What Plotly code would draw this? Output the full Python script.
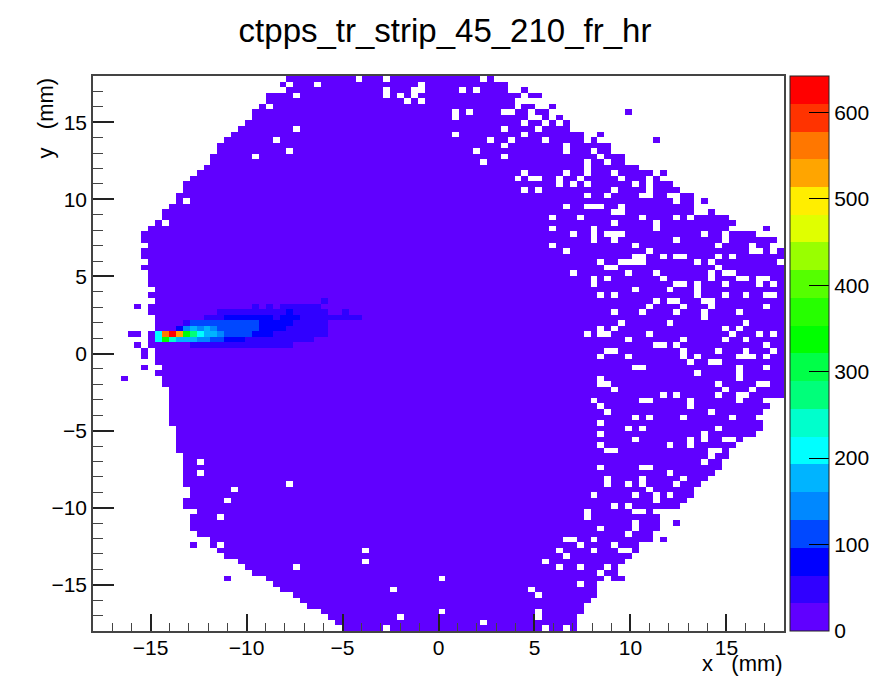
import plotly.graph_objects as go

TITLE = "ctpps_tr_strip_45_210_fr_hr"
X_LABEL = "x\u00a0\u00a0\u00a0(mm)"
Y_LABEL = "y\u00a0\u00a0\u00a0(mm)"
N_BINS = 100
X_START, BIN_W = -18.0, 0.36
Z_MAX = 642
BASE_COUNT = 10

# Rows are listed from the top of the plot (y = +18) downward; columns from x = -18.
ROW_FIRST = [28,27,28,25,25,24,23,23,22,21,20,19,18,18,17,17,16,15,14,13,13,12,12,11,10,10,9,8,7,7,
             8,7,7,8,7,8,8,8,9,8,9,8,8,9,9,9,8,8,8,9,9,9,10,9,10,10,11,11,11,11,
             11,11,11,12,12,12,12,12,13,13,13,13,13,13,14,14,13,13,15,14,14,14,15,17,17,18,19,21,22,23,
             25,26,27,29,30,31,33,34,35,36]
ROW_LAST = [57,59,59,61,60,60,65,65,68,68,70,70,74,74,76,76,78,80,81,83,84,86,86,86,86,91,92,91,95,98,
            97,99,99,99,99,99,99,99,99,99,99,99,99,99,99,99,99,99,99,99,99,99,99,99,99,99,99,99,96,97,
            96,95,96,96,95,93,92,91,91,90,90,89,88,87,86,86,85,84,80,81,81,81,80,80,78,78,77,76,75,75,
            76,72,72,72,71,70,70,69,69,69]
ROW_HOLES = [
    [38,42,56],[28,32,47],[42,46,47,53,55],[29,42,44,46],[45,47],[25],[52,54,59,60,63],[52,63,64],
    [62,65,67],[29,59,64],[52,62],[26,57,60,65],[59,68],[28,55,68,72],[23,59,73],[56,71,74],[71],
    [62,68,71,75],[61,63,64,67,70,76,80],[67,69,71,78,80],[62,64,75,80],[71,74,79,80,83,84],[13,84],
    [68,71,72,73,76],[75,76],[66,70,79,84,86],[10,75,81],[66,72,81],[69,72,74,75,76,88,91],
    [72,75,84,91],[66,78,90,95],[68,80,95,96,98],[78,79,82,84,85,90,92],[73,76,77,78,79,87,89,99],
    [74,75,90],[69,77,81,89,91,92],[72,74,82,89,93,94,96,97],[72,84,85,87,91,96,98],[78,83,87],
    [73,75,87,91,94,97,98],[81,83,84,88,89],[80,85,89,97],[75,79,84,88,93],[88],[76,83,94],
    [73,75,91,93],[71,73,74,80,92,96,98],[77,85,91,94],[81,82,84,97],[74,75,85,90,94,98],
    [73,77,85,87,93,94,95,97],[86,89,90],[78,79,93,97],[87,93],[73,93],[73,74,90,96,97],[75,91,95],
    [82,84,90,93,94],[72,79,80,86,93],[73,86],[74,89],[78,80,85,92],[73],[77,79,90],[73,88],
    [78,86,88,91,92],[73,83,86],[74,75,89,90],[89],[15,88],[73,79,80],[15,83],[74,79,85],
    [28,74,77,79,84],[20,80],[72,78,81,83],[19,81],[75,77],[71,78,79],[18,71],[78],[73,78],[77],
    [68,69,72],[18,70,75],[39,67,72,76,77],[68],[39,65],[29,67,70,74],[73],[50,74],[70],[43,63],[64],
    [],[],[50,64],[44,64],[56],[42,65,68],
]
# Filled bins detached from the main body: (row, column)
ISOLATED = [(41,6),(46,5),(46,6),(48,6),(49,7),(50,7),(52,7),(54,4),(84,14),(90,19),
            (2,62),(3,63),(3,64),(5,62),(5,63),(5,66),(6,77),(7,67),(10,73),(11,72),(11,81),
            (17,82),(22,88),(24,89),(27,97),(80,84),(83,82)]
# Bright core: row -> {column: count}
HOT_ROWS = {
    40: {33:45},
    41: {23:45,25:45,27:50,28:55,29:50,30:50,31:55,32:45},
    42: {18:45,19:50,20:55,21:55,22:55,23:60,24:40,25:55,26:55,27:60,28:70,29:60,30:55,31:60,32:55,33:40,36:40},
    43: {16:40,17:45,18:60,19:65,20:70,21:70,22:70,23:70,24:70,25:66,26:60,27:66,28:70,29:66,30:62,31:60,32:55,33:40,34:36,35:40,36:40,37:40,38:40},
    44: {13:55,14:110,15:100,16:110,17:100,18:100,19:105,20:105,21:105,22:105,23:105,24:85,25:75,26:80,27:70,28:68,29:62,30:55,31:50,32:40,33:36},
    45: {12:90,13:130,14:170,15:150,16:170,17:130,18:115,19:110,20:110,21:110,22:105,23:100,24:85,25:75,26:70,27:66,28:60,29:55,30:50,31:42,32:36,33:40},
    46: {9:210,10:560,11:625,12:530,13:350,14:270,15:210,16:180,17:170,18:150,19:125,20:115,21:105,22:100,23:85,24:70,25:66,26:60,27:55,28:50,29:45,30:40,31:38,32:36,33:36},
    47: {9:210,10:340,11:225,12:190,13:170,14:180,15:150,16:150,17:110,18:110,19:90,20:75,21:66,22:64,23:55,24:50,25:45,26:45,27:40,28:38,29:36,30:36,31:36},
    48: {14:36,15:36,16:36,17:36,18:40,19:40,20:40,21:36,22:36,23:36,24:36,25:36,26:36,27:34,28:34},
}
BAND_COLORS = ["#6000ff","#3000ff","#0000ff","#0048ff","#0088ff","#00b4ff","#00ffff","#00ffcc","#00ff7a","#00ff48",
               "#00ff00","#26ff00","#55ff00","#99ff00","#e0ff00","#ffee00","#ffa500","#ff7700","#ff3300","#ff0000"]
COLORBAR_TICKS = [0,100,200,300,400,500,600]

grid = [[None]*N_BINS for _ in range(N_BINS)]
for row in range(N_BINS):
    for col in range(ROW_FIRST[row], ROW_LAST[row]+1):
        grid[row][col] = BASE_COUNT
    for col in ROW_HOLES[row]:
        grid[row][col] = None
for row, col in ISOLATED:
    grid[row][col] = BASE_COUNT
for row, cells in HOT_ROWS.items():
    for col, val in cells.items():
        grid[row][col] = val
grid = grid[::-1]

scale = []
n = len(BAND_COLORS)
for i, c in enumerate(BAND_COLORS):
    scale += [[i/n, c], [(i+1)/n, c]]

FONT = "Liberation Sans"
fig = go.Figure(go.Heatmap(
    z=grid, x0=X_START+BIN_W/2, dx=BIN_W, y0=X_START+BIN_W/2, dy=BIN_W,
    colorscale=scale, zmin=0, zmax=Z_MAX, hoverongaps=False,
    colorbar=dict(x=(789.5-93)/691, xanchor="left", xpad=0, ypad=0, y=0.5, yanchor="middle", len=1,
                  thickness=39, thicknessmode="pixels", tickvals=COLORBAR_TICKS, ticks="inside", ticklen=20,
                  tickcolor="black", tickwidth=1, outlinecolor="#222", outlinewidth=1,
                  tickfont=dict(family=FONT, size=21, color="black")),
))
axis = dict(range=[-18,18], dtick=5, tick0=0, ticks="inside", tickcolor="#222", tickwidth=1.5,
            showgrid=False, zeroline=False, showline=True, linecolor="#444", linewidth=1.5, mirror=True,
            tickfont=dict(family=FONT, size=21, color="black"))
fig.update_xaxes(**axis, ticklen=17, ticklabelstandoff=-3,
                 minor=dict(dtick=1, ticks="inside", ticklen=8, tickcolor="#444", tickwidth=1))
fig.update_yaxes(**axis, ticklen=21,
                 minor=dict(dtick=1, ticks="inside", ticklen=10, tickcolor="#444", tickwidth=1))
fig.update_layout(
    width=871, height=678, autosize=False, paper_bgcolor="white", plot_bgcolor="white",
    margin=dict(l=93, r=87, t=76, b=47, autoexpand=False),
    title=dict(text=TITLE, x=445/871, xanchor="center", y=1-30/678, yanchor="middle",
               font=dict(family=FONT, size=33, color="black")),
    annotations=[
        dict(text=X_LABEL, xref="paper", yref="paper", x=1, y=(631-677)/555, xanchor="right", yanchor="bottom",
             showarrow=False, borderpad=0, font=dict(family=FONT, size=22, color="black")),
        dict(text=Y_LABEL, xref="paper", yref="paper", x=(45-93)/691, y=1, xanchor="center", yanchor="top",
             textangle=-90, showarrow=False, borderpad=0, font=dict(family=FONT, size=22, color="black")),
    ],
)
fig.write_html("out.html", config={"displayModeBar": False},
               post_script="document.body.style.margin='0';document.documentElement.style.overflow='hidden';")
